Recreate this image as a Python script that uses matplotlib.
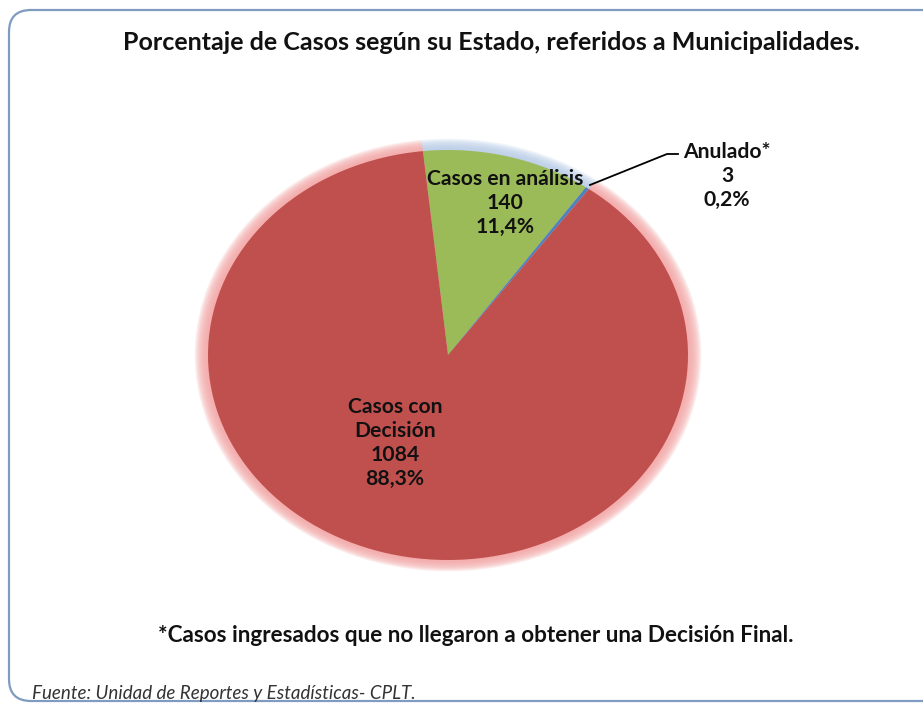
import matplotlib
matplotlib.use("Agg")
import matplotlib.pyplot as plt
from matplotlib.patches import FancyBboxPatch

# ── data ──────────────────────────────────────────────────────────────
labels = ["Casos en análisis", "Anulado*", "Casos con\nDecisión"]
values = [140, 3, 1084]
colors = ["#9BBB59", "#4F81BD", "#C0504D"]
glow_colors = ["#b9cde8", "#b9cde8", "#f4a6a6"]

title = "Porcentaje de Casos según su Estado, referidos a Municipalidades."
note = "*Casos ingresados que no llegaron a obtener una Decisión Final."
source = "Fuente: Unidad de Reportes y Estadísticas- CPLT."

W, H = 923, 705
FONT = ["Lato", "DejaVu Sans"]

fig = plt.figure(figsize=(W / 100, H / 100), dpi=100)
fig.patch.set_facecolor("white")

# ── pie (elliptical) ──────────────────────────────────────────────────
px_l, px_r, px_t, px_b = 208, 688, 150, 560
ax = fig.add_axes([px_l / W, 1 - px_b / H, (px_r - px_l) / W, (px_b - px_t) / H])
ax.patch.set_alpha(0)

# soft glow around the rim
for k in range(10, 0, -1):
    ax.pie(values, radius=1 + 0.0055 * k, startangle=96, counterclock=False,
           colors=glow_colors, wedgeprops=dict(lw=0, alpha=0.2))

wedges, _ = ax.pie(values, radius=1, startangle=96, counterclock=False,
                   colors=colors, wedgeprops=dict(lw=0))
ax.set_aspect("auto")
ax.set_xlim(-1, 1)
ax.set_ylim(-1, 1)
ax.axis("off")

# overlay axes in pixel coordinates (y down), drawn on top
ov = fig.add_axes([0, 0, 1, 1])
ov.set_zorder(10)
ov.patch.set_alpha(0)
ov.set_xlim(0, W)
ov.set_ylim(H, 0)
ov.axis("off")

frame = FancyBboxPatch((9, 10), W + 20, H - 14,
                       boxstyle="round,pad=0,rounding_size=22",
                       fc="none", ec="#7f9cc0", lw=1.6, zorder=1)
ov.add_patch(frame)

total = sum(values)


def pct(v):
    return f"{100 * v / total:.1f}".replace(".", ",") + "%"


txt = dict(ha="center", va="center", fontsize=15.2, fontweight="bold",
           family=FONT, color="#111111", linespacing=1.25)

ov.text(505, 203, f"{labels[0]}\n{values[0]}\n{pct(values[0])}", zorder=5, **txt)
ov.text(727, 176, f"{labels[1]}\n{values[1]}\n{pct(values[1])}", zorder=5, **txt)
ov.text(395, 443, f"{labels[2]}\n{values[2]}\n{pct(values[2])}", zorder=5, **txt)

# leader line for the tiny slice
ov.plot([590, 667, 678], [185, 154, 154], color="black", lw=1.3, zorder=4)

# ── titles / notes ─────────────────────────────────────────────────────
ov.text(491, 43, title, ha="center", va="center", fontsize=18,
        fontweight="bold", family=FONT, color="#111111")
ov.text(476, 636, note, ha="center", va="center", fontsize=16.2,
        fontweight="bold", family=FONT, color="#111111")
ov.text(32, 693, source, ha="left", va="center", fontsize=13.5,
        style="italic", family=FONT, color="#333333")

fig.savefig("out.png", dpi=100)
